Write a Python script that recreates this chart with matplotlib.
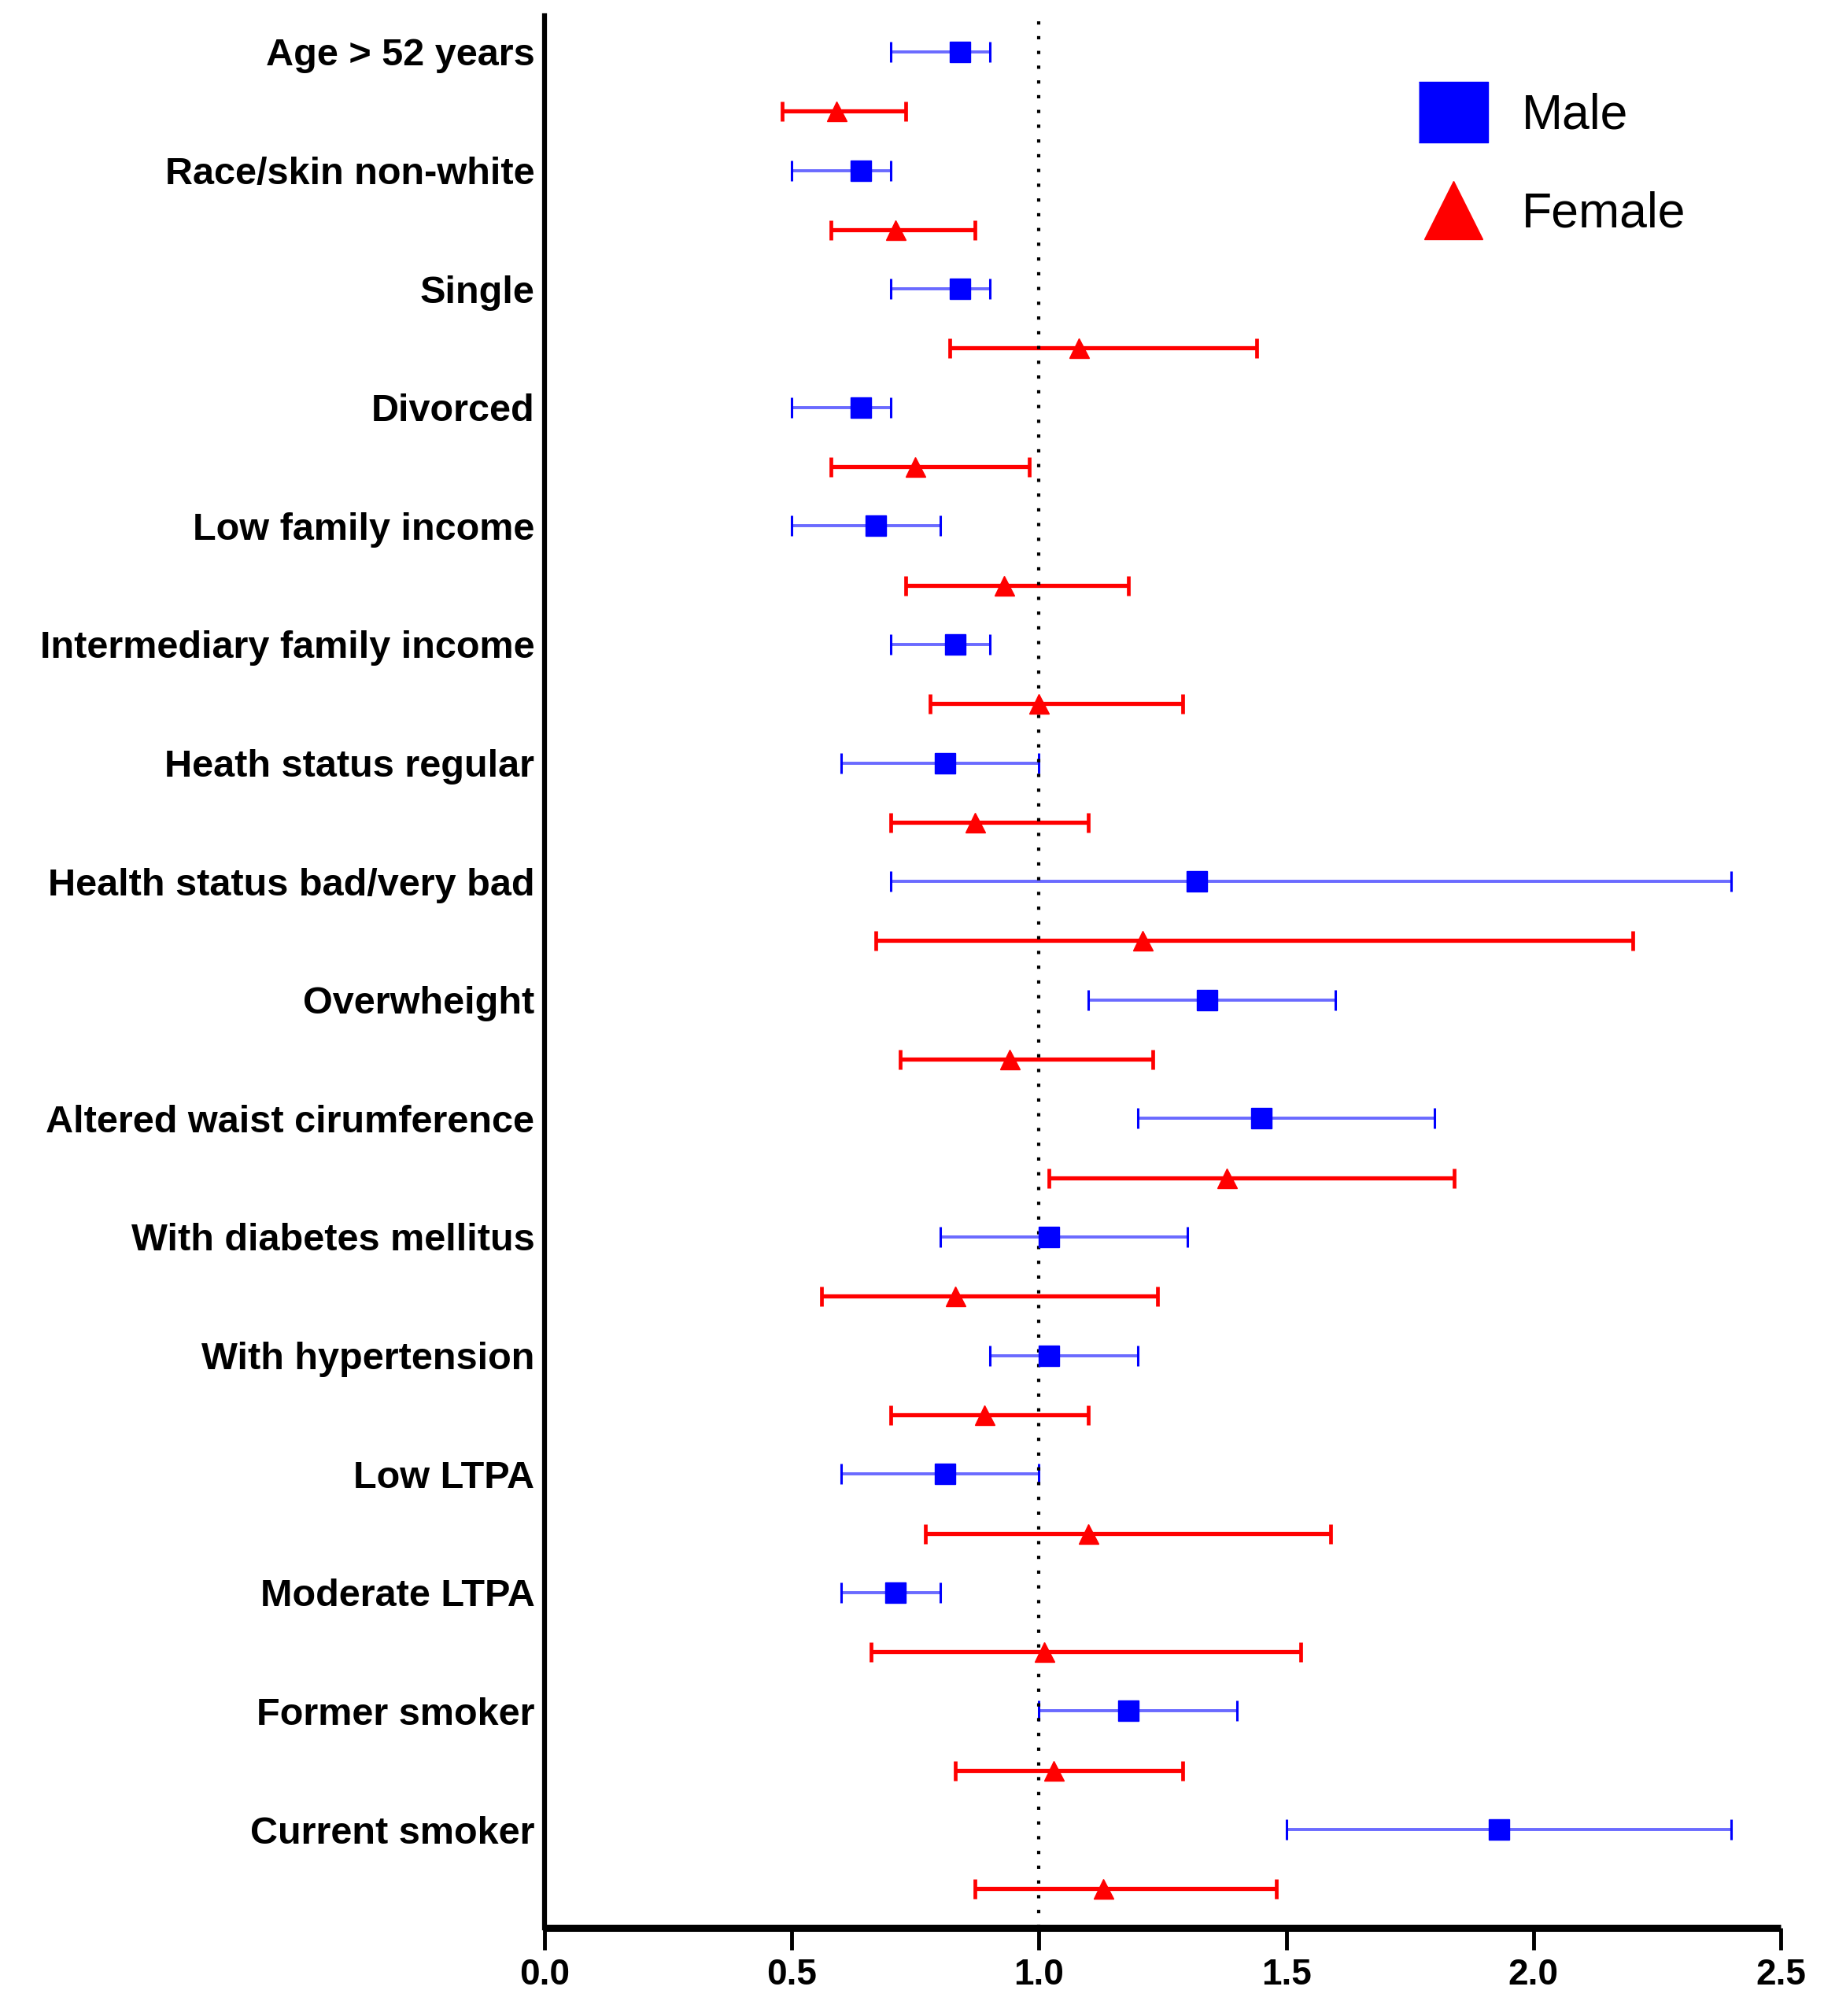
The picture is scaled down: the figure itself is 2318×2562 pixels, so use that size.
import matplotlib
matplotlib.use("Agg")
import matplotlib.pyplot as plt
from matplotlib.lines import Line2D
import numpy as np

categories = ["Age > 52 years", "Race/skin non-white", "Single", "Divorced",
              "Low family income", "Intermediary family income",
              "Heath status regular", "Health status bad/very bad",
              "Overwheight", "Altered waist cirumference",
              "With diabetes mellitus", "With hypertension", "Low LTPA",
              "Moderate LTPA", "Former smoker", "Current smoker"]

male_or = [0.84, 0.64, 0.84, 0.64, 0.67, 0.83, 0.81, 1.32, 1.34, 1.45, 1.02, 1.02, 0.81, 0.71, 1.18, 1.93]
male_lo = [0.70, 0.50, 0.70, 0.50, 0.50, 0.70, 0.60, 0.70, 1.10, 1.20, 0.80, 0.90, 0.60, 0.60, 1.00, 1.50]
male_hi = [0.90, 0.70, 0.90, 0.70, 0.80, 0.90, 1.00, 2.40, 1.60, 1.80, 1.30, 1.20, 1.00, 0.80, 1.40, 2.40]

female_or = [0.59, 0.71, 1.08, 0.75, 0.93, 1.00, 0.87, 1.21, 0.94, 1.38, 0.83, 0.89, 1.10, 1.01, 1.03, 1.13]
female_lo = [0.48, 0.58, 0.82, 0.58, 0.73, 0.78, 0.70, 0.67, 0.72, 1.02, 0.56, 0.70, 0.77, 0.66, 0.83, 0.87]
female_hi = [0.73, 0.87, 1.44, 0.98, 1.18, 1.29, 1.10, 2.20, 1.23, 1.84, 1.24, 1.10, 1.59, 1.53, 1.29, 1.48]

x_ticks = [0.0, 0.5, 1.0, 1.5, 2.0, 2.5]
x_ticklabels = ["0.0", "0.5", "1.0", "1.5", "2.0", "2.5"]

plt.rcParams['font.family'] = ['Liberation Sans', 'DejaVu Sans']

fig = plt.figure(figsize=(23.18, 25.62), dpi=100)
ax = fig.add_axes([0.2985, 0.0437, 0.9763 - 0.2985, 0.9922 - 0.0437])

n = len(categories)
idx = np.arange(n)
y_m = 2 * idx
y_f = 2 * idx + 1

m_or = np.array(male_or); m_lo = np.array(male_lo); m_hi = np.array(male_hi)
f_or = np.array(female_or); f_lo = np.array(female_lo); f_hi = np.array(female_hi)

BLUE = "#0000ff"
RED = "#ff0000"

# reference line
ax.axvline(1.0, color="black", lw=3.0, ls=(0, (1, 3.5)), zorder=3)

# male
ml, mcaps, mbars = ax.errorbar(m_or, y_m, xerr=[m_or - m_lo, m_hi - m_or], fmt='none',
                               ecolor=BLUE, elinewidth=2.8, capsize=9.5, capthick=2.2, zorder=2)
for b in mbars:
    b.set_color("#6a6aff")
ax.plot(m_or, y_m, ls='none', marker='s', ms=18.5, color=BLUE, mec=BLUE, zorder=5)

# female
fl, fcaps, fbars = ax.errorbar(f_or, y_f, xerr=[f_or - f_lo, f_hi - f_or], fmt='none',
                               ecolor=RED, elinewidth=3.8, capsize=9.0, capthick=3.4, zorder=2)
ax.plot(f_or, y_f, ls='none', marker='^', ms=18, color=RED, mec=RED, zorder=5)

ax.set_xlim(0, 2.5)
ax.set_ylim(31.66, -0.61)
ax.set_xticks(x_ticks)
ax.set_xticklabels(x_ticklabels, fontsize=33, fontweight='bold')
ax.set_yticks(y_m)
ax.set_yticklabels(categories, fontsize=35, fontweight='bold')
ax.tick_params(axis='y', length=0, pad=9)
ax.tick_params(axis='x', length=20, width=3.5, pad=7, direction='out')

for s in ['top', 'right']:
    ax.spines[s].set_visible(False)
ax.spines['left'].set_linewidth(4.5)
ax.spines['bottom'].set_linewidth(6.5)
ax.spines['bottom'].set_capstyle('butt')

sq = [(-1, -0.88), (1, -0.88), (1, 0.88), (-1, 0.88)]
handles = [Line2D([], [], ls='none', marker=sq, ms=63, color=BLUE, mec=BLUE),
           Line2D([], [], ls='none', marker='^', ms=53, color=RED, mec=RED)]
fig.legend(handles, ["Male", "Female"], loc='upper left',
           bbox_to_anchor=(1803 / 2318, 1 - 118 / 2562), frameon=False,
           fontsize=45, handlelength=1.4, handletextpad=0.7, labelspacing=1.05,
           borderpad=0, borderaxespad=0)

fig.savefig("out.png", dpi=100)
